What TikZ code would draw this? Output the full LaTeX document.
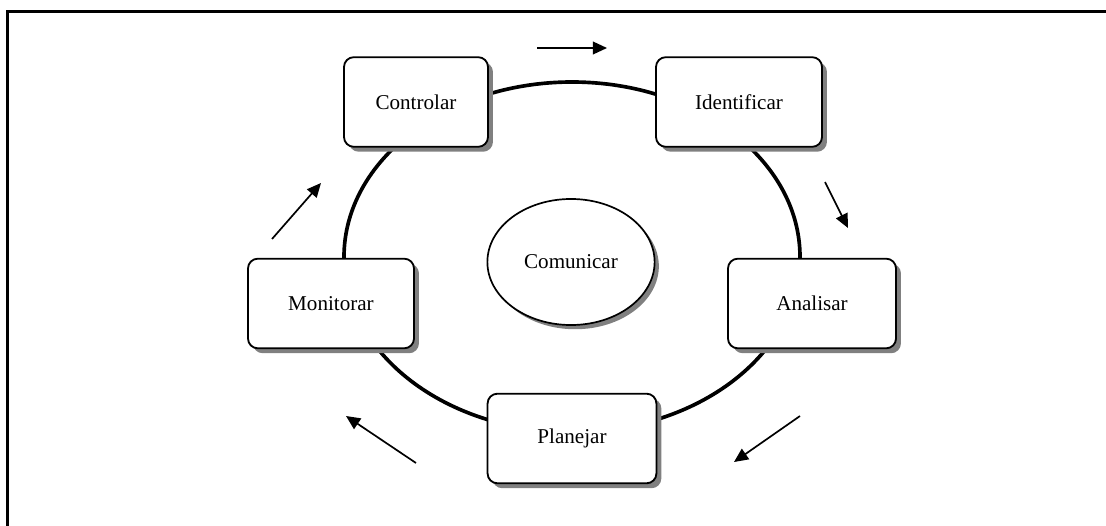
\documentclass[tikz,border=0pt]{standalone}
\usepackage{fontspec}
\setmainfont{Liberation Serif}
\usetikzlibrary{arrows.meta,shapes.geometric,shadows}

\begin{document}
\begin{tikzpicture}[x=0.025cm,y=-0.025cm,
    etapa/.style={draw,line width=1.3pt,rounded corners=7pt,fill=white,minimum height=2.24cm,
      general shadow={fill=gray,shadow xshift=3.5pt,shadow yshift=-3.5pt},font=\fontsize{15}{18}\selectfont},
    seta/.style={line width=1.2pt,-{Triangle[length=10pt,width=9pt]}}]
  \useasboundingbox (0,0) rectangle (1106,526);
  \draw[line width=1.8pt] (7.5,526)--(7.5,11.5)--(1106,11.5);
  % ciclo
  \draw[line width=2.6pt] (572,257) ellipse [x radius=228,y radius=175];
  \node[etapa,minimum width=3.6cm] (controlar) at (416,102) {Controlar};
  \node[etapa,minimum width=4.15cm] (identificar) at (739,102) {Identificar};
  \node[etapa,minimum width=4.15cm] (monitorar) at (331,303.5) {Monitorar};
  \node[etapa,minimum width=4.2cm] (analisar) at (812,303.5) {Analisar};
  \node[etapa,minimum width=4.22cm] (planejar) at (572,438.5) {Planejar};
  \node[ellipse,draw,line width=1.2pt,fill=white,minimum width=4.18cm,minimum height=3.15cm,
    general shadow={fill=gray,shadow xshift=3pt,shadow yshift=-3pt},font=\fontsize{15}{18}\selectfont] (comunicar) at (571,262) {Comunicar};
  % setas
  \coordinate (s1i) at (537,48);  \coordinate (s1f) at (607,48);
  \coordinate (s2i) at (825,182); \coordinate (s2f) at (848,228);
  \coordinate (s3i) at (800,416); \coordinate (s3f) at (734,462);
  \coordinate (s4i) at (416,463); \coordinate (s4f) at (346,416);
  \coordinate (s5i) at (272,239); \coordinate (s5f) at (321,183);
  \foreach \s in {1,...,5}
    \draw[seta] (s\s i)--(s\s f);
\end{tikzpicture}
\end{document}
